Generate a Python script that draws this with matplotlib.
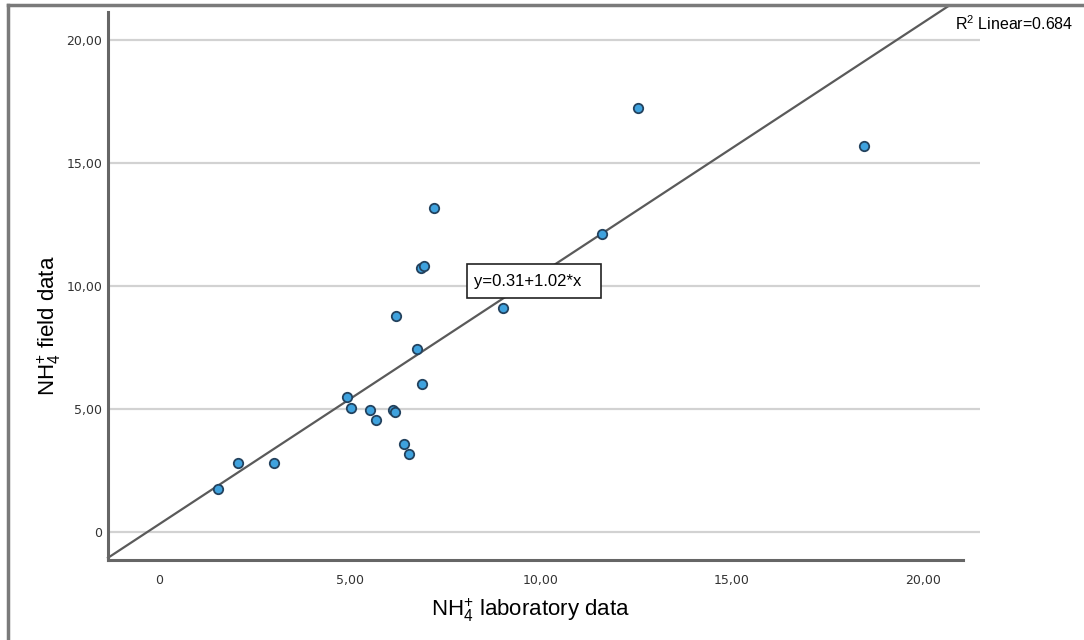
import matplotlib
matplotlib.use("Agg")
import numpy as np
import matplotlib.pyplot as plt
from matplotlib.lines import Line2D
from matplotlib.patches import Rectangle
from matplotlib.ticker import FuncFormatter

plt.rcParams['font.family'] = ['Liberation Sans', 'DejaVu Sans']
plt.rcParams['mathtext.fontset'] = 'custom'
plt.rcParams['mathtext.rm'] = 'Liberation Sans'
plt.rcParams['mathtext.it'] = 'Liberation Sans:italic'

# NH4+ lab vs field measurements
lab = [1.55, 2.07, 3.01, 4.91, 5.02, 5.52, 5.69, 6.12, 6.18, 6.20, 6.41,
       6.54, 6.75, 6.85, 6.88, 6.94, 7.21, 9.00, 11.60, 12.54, 18.46]
field = [1.73, 2.80, 2.80, 5.50, 5.03, 4.96, 4.55, 4.96, 4.89, 8.79, 3.59,
         3.18, 7.43, 10.74, 6.00, 10.81, 13.16, 9.09, 12.11, 17.24, 15.69]

intercept = 0.31
slope = 1.02
r2 = 0.684
ticks = [0, 5, 10, 15, 20]

fig = plt.figure(figsize=(10.84, 6.4), dpi=100)
ax = fig.add_axes([0.0996, 0.125, 0.8044, 0.856])

xmin, xmax = -1.335, 21.49
ymin, ymax = -1.14, 21.14
ax.set_xlim(xmin, xmax)
ax.set_ylim(ymin, ymax)

for t in ticks:
    ax.axhline(t, color='#d2d2d2', lw=1.6, zorder=1)

xs = np.array([xmin, 20.65])
ax.plot(xs, intercept + slope * xs, color='#5a5a5a', lw=1.6, zorder=2, clip_on=False)

ax.scatter(lab, field, s=46, c='#3fa2de', edgecolors='#23425e', linewidths=1.3, zorder=3)

fmt = FuncFormatter(lambda v, p: '0' if v == 0 else f'{v:.2f}'.replace('.', ','))
ax.set_xticks(ticks)
ax.set_yticks(ticks)
ax.xaxis.set_major_formatter(fmt)
ax.yaxis.set_major_formatter(fmt)
ax.tick_params(length=0, labelsize=9, colors='#333333')
ax.tick_params(axis='x', pad=10)
ax.tick_params(axis='y', pad=4)
for lab_t in ax.get_xticklabels() + ax.get_yticklabels():
    lab_t.set_family('DejaVu Sans')

for side in ['top', 'right']:
    ax.spines[side].set_visible(False)
for side in ['left', 'bottom']:
    ax.spines[side].set_color('#666666')
    ax.spines[side].set_linewidth(2.2)
ax.spines['bottom'].set_bounds(xmin, 21.05)

ax.set_xlabel(r'$\mathregular{NH_4^{+}}$ laboratory data', fontsize=16)
ax.set_ylabel(r'$\mathregular{NH_4^{+}}$ field data', fontsize=16)
ax.xaxis.set_label_coords(0.485, -0.066)
ax.yaxis.set_label_coords(-0.052, 0.427)

# fit equation box
ax.add_patch(Rectangle((8.06, 9.51), 3.51, 1.38, fc='white', ec='#222222',
                       lw=1.2, zorder=4))
ax.text(8.25, 10.2, 'y=%.2f+%.2f*x' % (intercept, slope), fontsize=12,
        va='center', ha='left', zorder=5)
ax.text(20.85, 20.69, 'R$^2$ Linear=%.3f' % r2, fontsize=11.5, va='center',
        ha='left', clip_on=False)

# outer frame: top and left edges
fig.add_artist(Line2D([0.0075, 0.0075], [0.0, 0.992], color='#7a7a7a', lw=2.5))
fig.add_artist(Line2D([0.0075, 1.0], [0.992, 0.992], color='#7a7a7a', lw=2.5))

fig.savefig('out.png', dpi=100)
